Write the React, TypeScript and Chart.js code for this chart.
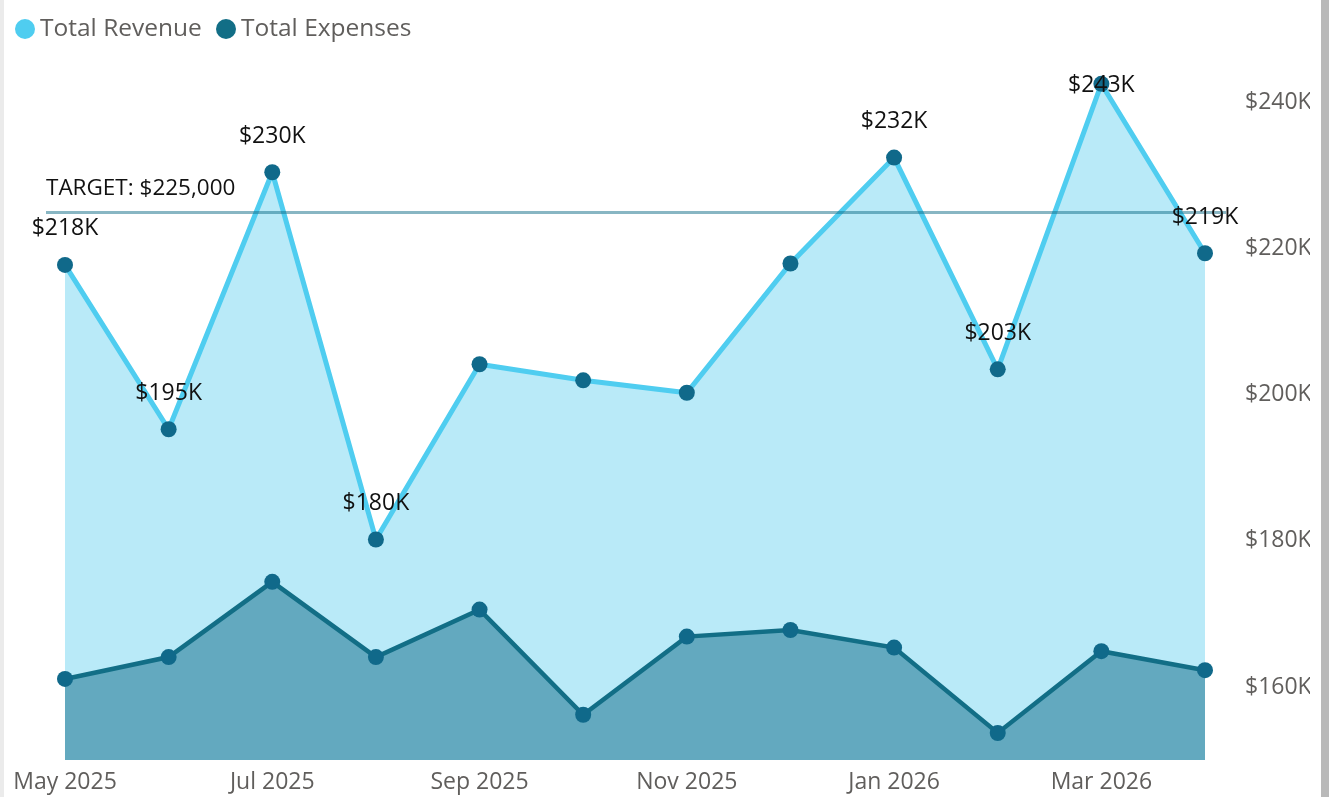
import React, { useEffect, useRef } from "react";
import { Chart, registerables } from "chart.js";

Chart.register(...registerables);

const months = [
  "May 2025", "Jun 2025", "Jul 2025", "Aug 2025", "Sep 2025", "Oct 2025",
  "Nov 2025", "Dec 2025", "Jan 2026", "Feb 2026", "Mar 2026", "Apr 2026",
];
const revenue = [217.8, 195.3, 230.5, 180.2, 204.2, 202.0, 200.3, 218.0, 232.5, 203.5, 242.6, 219.4];
const expenses = [161.1, 164.1, 174.4, 164.1, 170.6, 156.2, 166.9, 167.8, 165.4, 153.7, 164.9, 162.3];
const revenueLabels = ["$218K", "$195K", "$230K", "$180K", "", "", "", "", "$232K", "$203K", "$243K", "$219K"];
const target = 225;
const targetLabel = "TARGET: $225,000";
const yTicks = [160, 180, 200, 220, 240];
const legendNames = ["Total Revenue", "Total Expenses"];

const FONT_FAMILY = "'Open Sans', 'Noto Sans', sans-serif";
const REV_LINE = "#4fcdf0";
const REV_FILL = "#b9eaf8";
const EXP_LINE = "#126e86";
const EXP_FILL = "#63a9bf";
const POINT = "#10698a";
const AXIS_TEXT = "#605e5c";

const overlayPlugin = {
  id: "overlay",
  afterDatasetsDraw(chart: any) {
    const { ctx, chartArea, scales } = chart;
    const y = scales.y.getPixelForValue(target);
    ctx.save();
    ctx.strokeStyle = "rgba(18,110,135,0.5)";
    ctx.lineWidth = 3;
    ctx.beginPath();
    ctx.moveTo(chartArea.left - 19, y);
    ctx.lineTo(chartArea.right + 21, y);
    ctx.stroke();

    ctx.font = `22.5px ${FONT_FAMILY}`;
    ctx.fillStyle = "#111";
    ctx.textAlign = "left";
    ctx.textBaseline = "middle";
    ctx.fillText(targetLabel, chartArea.left - 19, y - 24);

    ctx.font = `23px ${FONT_FAMILY}`;
    const meta = chart.getDatasetMeta(0);
    ctx.textAlign = "center";
    meta.data.forEach((pt: any, i: number) => {
      const t = revenueLabels[i];
      if (!t) return;
      const ly = Math.max(pt.y - 36, chartArea.top + 15);
      ctx.fillText(t, pt.x, ly);
    });
    ctx.restore();
  },
  afterDraw(chart: any) {
    const { ctx } = chart;
    ctx.save();
    ctx.font = `24.5px ${FONT_FAMILY}`;
    ctx.textAlign = "left";
    ctx.textBaseline = "middle";
    const colors = [REV_LINE, EXP_LINE];
    const xs = [21, 222];
    legendNames.forEach((name, i) => {
      ctx.fillStyle = colors[i];
      ctx.beginPath();
      ctx.arc(xs[i], 29, 10, 0, Math.PI * 2);
      ctx.fill();
      ctx.fillStyle = AXIS_TEXT;
      ctx.fillText(name, xs[i] + 15, 29);
    });
    ctx.restore();
  },
};

function RevenueChart() {
  const ref = useRef<HTMLCanvasElement | null>(null);
  useEffect(() => {
    if (!ref.current) return;
    const chart = new Chart(ref.current, {
      type: "line",
      data: {
        labels: months,
        datasets: [
          {
            label: legendNames[0],
            data: revenue,
            borderColor: REV_LINE,
            backgroundColor: REV_FILL,
            borderWidth: 5,
            fill: "start",
            tension: 0,
            pointRadius: 8,
            pointBackgroundColor: POINT,
            pointBorderWidth: 0,
            order: 2,
          },
          {
            label: legendNames[1],
            data: expenses,
            borderColor: EXP_LINE,
            backgroundColor: EXP_FILL,
            borderWidth: 4.5,
            fill: "start",
            tension: 0,
            pointRadius: 8,
            pointBackgroundColor: POINT,
            pointBorderWidth: 0,
            order: 1,
          },
        ],
      },
      options: {
        responsive: false,
        animation: false,
        layout: { padding: { left: 61, right: 11, top: 70, bottom: 0 } },
        plugins: {
          legend: { display: false },
          tooltip: { enabled: false },
        },
        scales: {
          x: {
            grid: { display: false, drawTicks: false },
            border: { display: false },
            afterFit: (s: any) => {
              s.height = 37;
            },
            ticks: {
              autoSkip: false,
              maxRotation: 0,
              padding: 9,
              color: AXIS_TEXT,
              font: { family: FONT_FAMILY, size: 23 },
              callback: (_v: any, i: number) => (i % 2 === 0 ? months[i] : ""),
            },
          },
          y: {
            position: "right",
            min: 150,
            max: 244.5,
            grid: { display: false, drawTicks: false },
            border: { display: false },
            afterFit: (s: any) => {
              s.width = 105;
              s.paddingTop = 0;
              s.paddingBottom = 0;
            },
            afterBuildTicks: (axis: any) => {
              axis.ticks = yTicks.map((v) => ({ value: v }));
            },
            ticks: {
              padding: 40,
              color: AXIS_TEXT,
              font: { family: FONT_FAMILY, size: 23 },
              callback: (v: any) => `$${v}K`,
            },
          },
        },
      },
      plugins: [overlayPlugin],
    });
    return () => chart.destroy();
  }, []);
  return (
    <canvas
      ref={ref}
      width={1317}
      height={797}
      style={{ position: "absolute", left: 4, top: 0, width: 1317, height: 797 }}
    />
  );
}

export default function App() {
  return (
    <div
      style={{
        position: "fixed",
        left: 0,
        top: 0,
        width: 1329,
        height: 797,
        background: "#ffffff",
        overflow: "hidden",
      }}
    >
      <div style={{ position: "absolute", left: 0, top: 0, width: 4, height: 797, background: "#ebebeb" }} />
      <div style={{ position: "absolute", left: 1321, top: 0, width: 8, height: 797, background: "#b9b9b9" }} />
      <RevenueChart />
    </div>
  );
}
